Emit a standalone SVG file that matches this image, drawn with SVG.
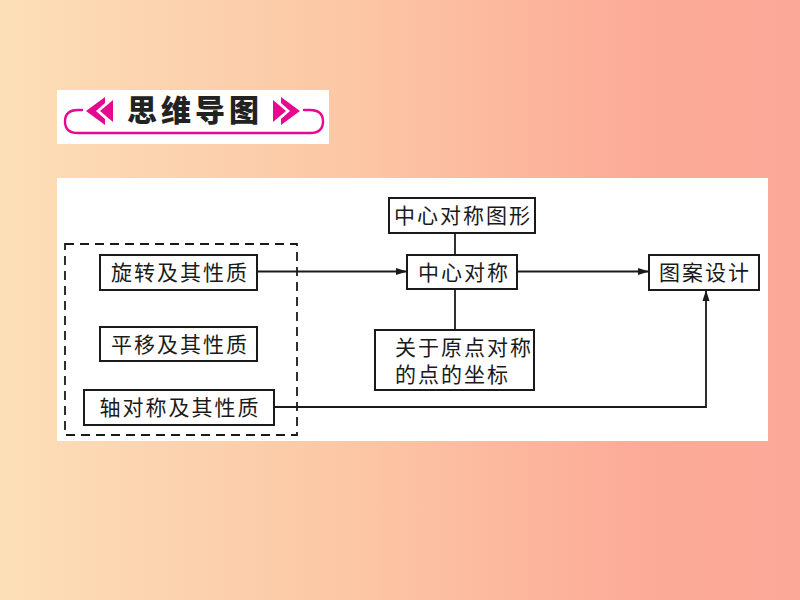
<svg xmlns="http://www.w3.org/2000/svg" width="800" height="600" viewBox="0 0 800 600">
  <style>
    .box { fill: #fff; stroke: #1a1a1a; stroke-width: 2; }
    .line { fill: none; stroke: #1a1a1a; stroke-width: 1.8; }
    .label { font-family: "Noto Sans CJK SC", "Noto Sans CJK JP", sans-serif; font-size: 21px; font-weight: 400; fill: #1a1a1a; letter-spacing: 2px; }
    .mid { text-anchor: middle; }
    .pink { fill: #e6098f; }
    .curl { fill: none; stroke: #e6098f; stroke-width: 2.4; stroke-linecap: round; }
  </style>
  <defs>
    <linearGradient id="bg" x1="0" y1="0" x2="1" y2="0">
      <stop offset="0" stop-color="#fcdfb8"/>
      <stop offset="0.45" stop-color="#fcc6a4"/>
      <stop offset="0.8" stop-color="#fcab98"/>
      <stop offset="1" stop-color="#fca898"/>
    </linearGradient>
    <marker id="arrow" markerUnits="userSpaceOnUse" markerWidth="13" markerHeight="9" refX="11" refY="4.500" orient="auto">
      <path d="M0 1 L11 4.500 L0 8 Z" fill="#1a1a1a"/>
    </marker>
  </defs>

  <rect width="800" height="600" fill="url(#bg)"/>

  <!-- section heading badge -->
  <g id="heading">
    <rect x="57" y="90" width="272" height="54" fill="#fff"/>
    <path class="curl" d="M82 110 H78 Q65 110 65 121.500 Q65 133 78 133 H310 Q323 133 323 121.500 Q323 110 310 110 H304"/>
    <path class="pink" d="M86 111 L105 97 V103 L96 111 L105 119 V125 Z"/>
    <path class="pink" d="M113 100 V122 L100 111 Z"/>
    <path class="pink" d="M300 111 L281 97 V103 L290 111 L281 119 V125 Z"/>
    <path class="pink" d="M273 100 V122 L286 111 Z"/>
    <text x="195" y="121" class="mid" style="font-family:'Noto Sans CJK SC','Noto Sans CJK JP',sans-serif;font-weight:900;font-size:30px;letter-spacing:4px;fill:#222">思维导图</text>
  </g>

  <rect id="panel" x="57" y="178" width="711" height="263" fill="#fff"/>

  <rect id="group-frame" x="65" y="244" width="232" height="191" fill="none" stroke="#1a1a1a" stroke-width="1.8" stroke-dasharray="9 6"/>

  <!-- connectors -->
  <g id="connectors">
    <path class="line" d="M257 271.500 H407" marker-end="url(#arrow)"/>
    <path class="line" d="M517 271.500 H649" marker-end="url(#arrow)"/>
    <path class="line" d="M455 233 V255"/>
    <path class="line" d="M455 289 V330"/>
    <path class="line" d="M274 407 H706 V290" marker-end="url(#arrow)"/>
  </g>

  <g id="node-rotation">
    <rect class="box" x="100" y="255" width="157" height="35"/>
    <text class="label mid" x="180" y="280">旋转及其性质</text>
  </g>
  <g id="node-translation">
    <rect class="box" x="100" y="327" width="157" height="34"/>
    <text class="label mid" x="180" y="352">平移及其性质</text>
  </g>
  <g id="node-axial">
    <rect class="box" x="84" y="390" width="190" height="35"/>
    <text class="label mid" x="180" y="415">轴对称及其性质</text>
  </g>
  <g id="node-central-figure">
    <rect class="box" x="389" y="198" width="146" height="35"/>
    <text class="label mid" x="463" y="223">中心对称图形</text>
  </g>
  <g id="node-central">
    <rect class="box" x="407" y="255" width="110" height="34"/>
    <text class="label mid" x="464" y="280">中心对称</text>
  </g>
  <g id="node-origin">
    <rect class="box" x="375" y="330" width="159" height="60"/>
    <text class="label" x="395" y="355">关于原点对称<tspan x="395" dy="27">的点的坐标</tspan></text>
  </g>
  <g id="node-design">
    <rect class="box" x="649" y="255" width="110" height="35"/>
    <text class="label mid" x="705" y="280">图案设计</text>
  </g>
</svg>
